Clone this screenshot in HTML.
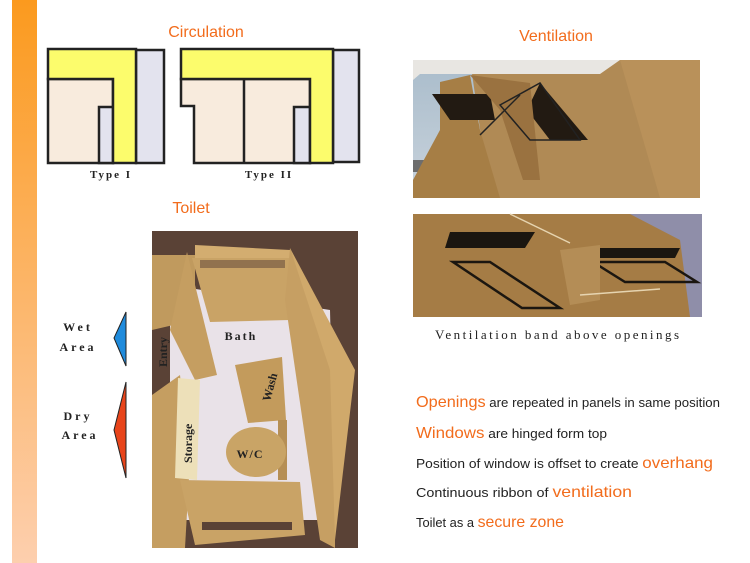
<!DOCTYPE html>
<html><head><meta charset="utf-8"><style>
html,body{margin:0;padding:0;background:#fff;}
svg{display:block;}
</style></head><body>
<svg width="750" height="563" viewBox="0 0 750 563" xmlns="http://www.w3.org/2000/svg" font-family="Liberation Sans, sans-serif">
<defs>
<linearGradient id="bar" x1="0" y1="0" x2="0" y2="1"><stop offset="0" stop-color="#fb9a1e"/><stop offset="1" stop-color="#fdcfae"/></linearGradient>
<linearGradient id="sky" x1="0" y1="0" x2="0" y2="1"><stop offset="0" stop-color="#a9bccb"/><stop offset="1" stop-color="#c9d3dc"/></linearGradient>
</defs>
<rect x="12" y="0" width="25" height="563" fill="url(#bar)"/>

<!-- titles -->
<text x="206" y="37" font-size="16" fill="#f26c1c" text-anchor="middle">Circulation</text>
<text x="556" y="41" font-size="16" fill="#f26c1c" text-anchor="middle">Ventilation</text>
<text x="191" y="213" font-size="16" fill="#f26c1c" text-anchor="middle">Toilet</text>

<!-- Type I -->
<g stroke="#222" stroke-width="2.5">
<rect x="136" y="50" width="28" height="113" fill="#e3e3ee"/>
<rect x="48" y="79" width="65" height="84" fill="#f8ebdd"/>
<rect x="99" y="107" width="14" height="56" fill="#e3e3ee"/>
<path d="M48 49 H136 V163 H113 V79 H48 Z" fill="#fcfc6c"/>
</g>
<text x="111" y="178" font-size="11" font-family="Liberation Serif, serif" font-weight="bold" text-anchor="middle" letter-spacing="2" fill="#222">Type I</text>

<!-- Type II -->
<g stroke="#222" stroke-width="2.5">
<rect x="333" y="50" width="26" height="112" fill="#e3e3ee"/>
<path d="M181 79 H310 V163 H194 V106 H181 Z" fill="#f8ebdd"/>
<line x1="244" y1="79" x2="244" y2="163"/>
<rect x="294" y="107" width="16" height="56" fill="#e3e3ee"/>
<path d="M181 49 H333 V163 H310 V79 H181 Z" fill="#fcfc6c"/>
</g>
<text x="269" y="178" font-size="11" font-family="Liberation Serif, serif" font-weight="bold" text-anchor="middle" letter-spacing="2" fill="#222">Type II</text>

<!-- Ventilation photo 1 -->
<g>
<rect x="413" y="60" width="287" height="138" fill="#b08a55"/>
<path d="M413 60 H470 L490 198 H413 Z" fill="url(#sky)"/>
<rect x="413" y="160" width="70" height="12" fill="#6d6d6d"/>
<path d="M413 60 H620 L600 74 H420 L413 80 Z" fill="#e8e6e2"/>
<path d="M440 82 L470 75 L480 130 L500 198 H413 V180 L440 130 Z" fill="#a67e45"/>
<path d="M432 94 L490 94 L495 120 L450 120 Z" fill="#221a12"/>
<path d="M540 83 L588 140 H550 L527 110 Z" fill="#221a12"/>
<path d="M470 75 L530 83 L540 180 L523 180 L500 110 Z" fill="#9a7240"/>
<path d="M500 105 L540 83 L580 140 L530 140 Z" fill="none" stroke="#222" stroke-width="1.5"/>
<path d="M480 135 L520 95" stroke="#222" stroke-width="1.5"/>
<path d="M620 60 H700 V198 H660 Z" fill="#b9915a"/>
</g>

<!-- Ventilation photo 2 -->
<g>
<rect x="413" y="214" width="289" height="103" fill="#a57c45"/>
<path d="M630 214 H702 V317 H690 L680 240 Z" fill="#8f8ea9"/>
<path d="M450 232 H535 L525 248 H445 Z" fill="#1b1610"/>
<path d="M590 248 H680 L675 258 H590 Z" fill="#1b1610"/>
<path d="M453 262 H490 L560 308 H522 Z" fill="none" stroke="#1b1610" stroke-width="2.5"/>
<path d="M593 262 H665 L697 282 H625 Z" fill="none" stroke="#1b1610" stroke-width="2.5"/>
<path d="M560 250 L600 245 V300 L570 305 Z" fill="#b48d56"/>
<line x1="510" y1="214" x2="570" y2="243" stroke="#e6d4b0" stroke-width="1.5"/>
<line x1="580" y1="295" x2="660" y2="289" stroke="#e6d4b0" stroke-width="1.5"/>
</g>
<text x="435" y="339" font-size="13" font-family="Liberation Serif, serif" fill="#222" letter-spacing="2" textLength="246">Ventilation band above openings</text>

<!-- Toilet photo -->
<g>
<rect x="152" y="231" width="206" height="317" fill="#5a4236"/>
<path d="M170 285 L330 310 L335 520 L170 520 Z" fill="#e9e2e8"/>
<path d="M152 255 H195 V320 L152 330 Z" fill="#c09a5e"/>
<path d="M192 258 L290 255 L290 320 L210 322 Z" fill="#c9a366"/>
<path d="M195 245 L290 250 L290 258 L195 258 Z" fill="#d3ad70"/>
<path d="M187 252 L217 375 L195 380 L170 330 Z" fill="#c59e61"/>
<path d="M290 248 L335 375 L335 548 L320 540 L285 300 Z" fill="#c69f63"/>
<path d="M290 248 L355 370 L335 540 L330 370 Z" fill="#d0a96b"/>
<path d="M152 395 L180 375 L190 460 L185 548 H152 Z" fill="#c59e61"/>
<path d="M178 378 L200 380 L197 480 L175 478 Z" fill="#ede0b9"/>
<path d="M235 365 L282 357 L286 420 L248 423 Z" fill="#c39b5c"/>
<path d="M278 420 L287 420 L287 480 L278 480 Z" fill="#b68f55"/>
<ellipse cx="256" cy="452" rx="30" ry="25" fill="#c9a466"/>
<path d="M180 480 L300 482 L305 535 L195 545 Z" fill="#c9a366"/>
<rect x="202" y="522" width="90" height="8" fill="#5a4236"/>
<rect x="200" y="260" width="85" height="8" fill="#5a4236" opacity=".5"/>
<text x="241" y="340" font-size="12" font-family="Liberation Serif, serif" font-weight="bold" letter-spacing="2" fill="#222" text-anchor="middle">Bath</text>
<text x="0" y="0" font-size="12" font-family="Liberation Serif, serif" font-weight="bold" fill="#222" transform="translate(167 367) rotate(-90)">Entry</text>
<text x="0" y="0" font-size="12" font-family="Liberation Serif, serif" font-weight="bold" fill="#222" transform="translate(270 402) rotate(-75)">Wash</text>
<text x="0" y="0" font-size="12" font-family="Liberation Serif, serif" font-weight="bold" fill="#222" transform="translate(192 463) rotate(-90)">Storage</text>
<text x="250" y="458" font-size="12" font-family="Liberation Serif, serif" font-weight="bold" letter-spacing="1" fill="#222" text-anchor="middle">W/C</text>
</g>

<!-- arrows -->
<text x="78" y="331" font-size="12" font-family="Liberation Serif, serif" font-weight="bold" letter-spacing="3" fill="#222" text-anchor="middle">Wet</text>
<text x="78" y="351" font-size="12" font-family="Liberation Serif, serif" font-weight="bold" letter-spacing="3" fill="#222" text-anchor="middle">Area</text>
<text x="78" y="420" font-size="12" font-family="Liberation Serif, serif" font-weight="bold" letter-spacing="3" fill="#222" text-anchor="middle">Dry</text>
<text x="80" y="439" font-size="12" font-family="Liberation Serif, serif" font-weight="bold" letter-spacing="3" fill="#222" text-anchor="middle">Area</text>
<path d="M126 312 L114 338 L126 366 Z" fill="#1f8bdc" stroke="#222" stroke-width="1"/>
<path d="M126 382 L114 430 L126 478 Z" fill="#e8441a" stroke="#222" stroke-width="1"/>

<!-- bullet text -->
<g font-size="13" fill="#222">
<text x="416" y="407" textLength="304" lengthAdjust="spacingAndGlyphs"><tspan fill="#f26c1c" font-size="16">Openings</tspan> are repeated in panels in same position</text>
<text x="416" y="438" textLength="191" lengthAdjust="spacingAndGlyphs"><tspan fill="#f26c1c" font-size="16">Windows</tspan> are hinged form top</text>
<text x="416" y="468" textLength="297" lengthAdjust="spacingAndGlyphs">Position of window is offset to create <tspan fill="#f26c1c" font-size="16">overhang</tspan></text>
<text x="416" y="497" textLength="216" lengthAdjust="spacingAndGlyphs">Continuous ribbon of <tspan fill="#f26c1c" font-size="16">ventilation</tspan></text>
<text x="416" y="527" textLength="148" lengthAdjust="spacingAndGlyphs">Toilet as a <tspan fill="#f26c1c" font-size="16">secure zone</tspan></text>
</g>
</svg>
</body></html>
